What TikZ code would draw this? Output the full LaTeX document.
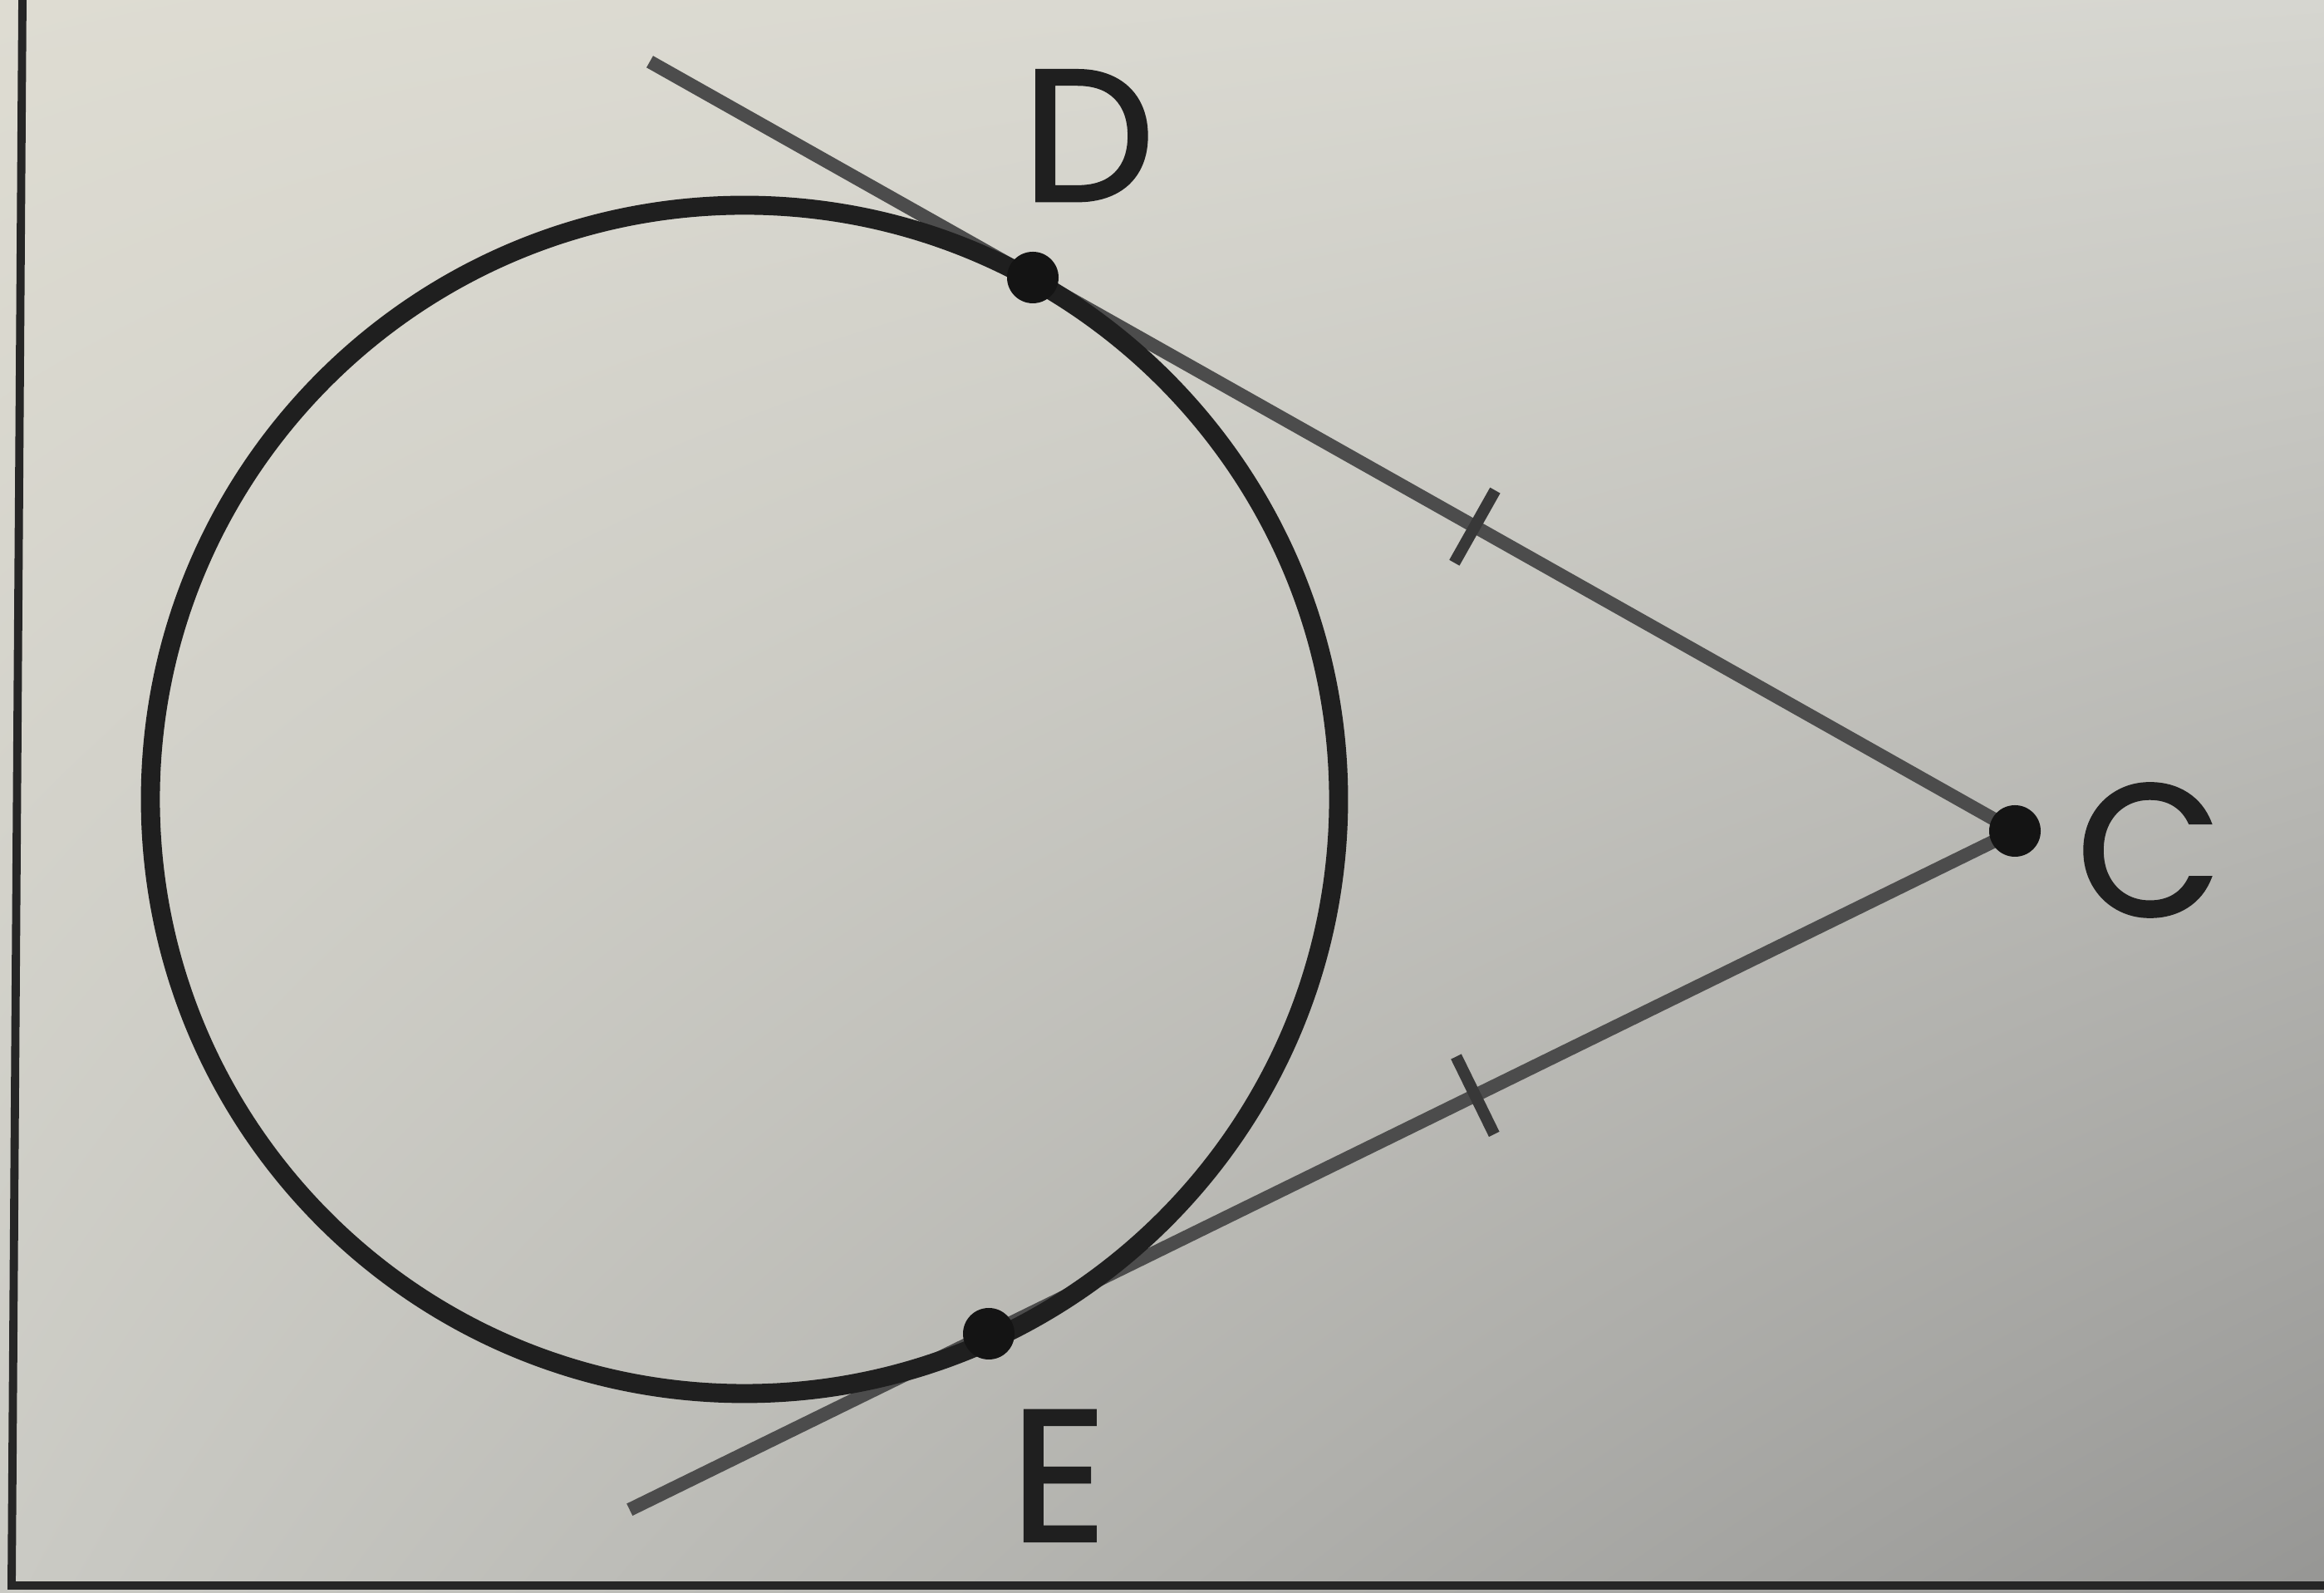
\documentclass[tikz,border=0pt]{standalone}
\usepackage{fontspec}
\newfontfamily\letterfont[FakeBold=1.6]{Poppins}
\usepackage{tikz}
\usetikzlibrary{calc,positioning,shadings}
\definecolor{paperTL}{RGB}{222,220,210}
\definecolor{paperTR}{RGB}{214,214,208}
\definecolor{paperBL}{RGB}{202,202,196}
\definecolor{paperBR}{RGB}{150,150,148}
\tikzstyle{dot} = [circle, fill=black!92, inner sep=0pt, minimum size=6.2mm]
\tikzstyle{letter} = [inner sep=0pt, text=black!88, font=\letterfont\fontsize{64}{64}\selectfont]
\tikzstyle{rim} = [line width=6.5pt, black!88]
\tikzstyle{tangent} = [line width=4.6pt, black!70]
\tikzstyle{tickmark} = [line width=4pt, black!78]

\begin{document}
\begin{tikzpicture}
    \shade [upper left=paperTL, upper right=paperTR, lower left=paperBL, lower right=paperBR] (0,0) rectangle (27.97,19.17);
    \useasboundingbox (0,0) rectangle (27.97,19.17);
    % edge of the printed box
    \draw [line width=2.8pt, black!85] (0.27,19.17) -- (0.14,0.09) -- (27.97,0.09);
    \coordinate (Cpt) at (24.25,9.17);
    \coordinate (Dpt) at (12.43,15.83);
    \coordinate (Ept) at (11.90,3.12);
    \coordinate (Dfar) at ($(Dpt)!-0.39!(Cpt)$);
    \coordinate (Efar) at ($(Ept)!-0.35!(Cpt)$);
    \draw [tangent] (Dfar) -- (Cpt);
    \draw [tangent] (Efar) -- (Cpt);
    % equal segments
    \coordinate (tD) at ($(Dpt)!0.45!(Cpt)$);
    \coordinate (tE) at ($(Ept)!0.474!(Cpt)$);
    \draw [tickmark] ($(tD)!0.5cm!90:(Cpt)$) -- ($(tD)!0.5cm!-90:(Cpt)$);
    \draw [tickmark] ($(tE)!0.52cm!90:(Cpt)$) -- ($(tE)!0.52cm!-90:(Cpt)$);
    % circle
    \draw [rim] (8.96,9.55) circle (7.15);
    \node [dot] (C) at (Cpt) {};
    \node [dot] (D) at (Dpt) {};
    \node [dot] (E) at (Ept) {};
    \node [letter, right=0.42cm of C, yshift=-0.23cm] (labC) {C};
    \node [letter, above=0.6cm of D, xshift=0.67cm] (labD) {D};
    \node [letter, below=0.6cm of E, xshift=0.84cm] (labE) {E};
\end{tikzpicture}
\end{document}
